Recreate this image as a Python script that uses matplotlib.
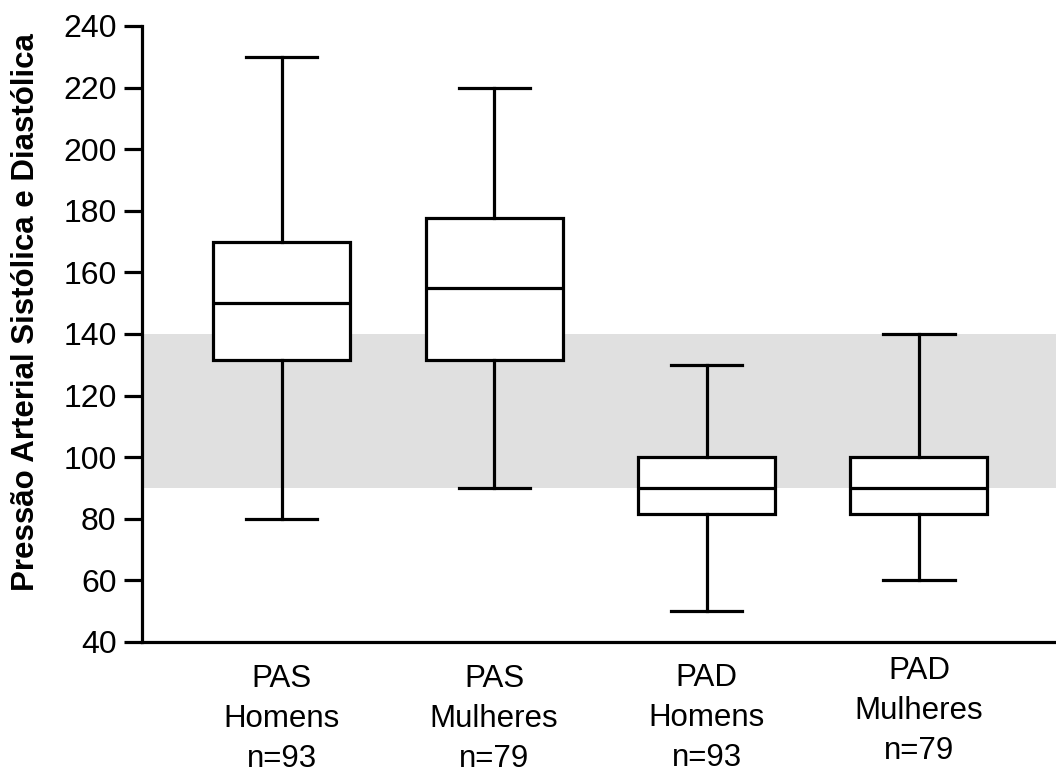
import matplotlib
matplotlib.use("Agg")
import matplotlib.pyplot as plt
from matplotlib.transforms import ScaledTranslation

plt.rcParams['font.family'] = ['Liberation Sans', 'DejaVu Sans']

categories = ["PAS\nHomens\nn=93", "PAS\nMulheres\nn=79", "PAD\nHomens\nn=93", "PAD\nMulheres\nn=79"]
whislo = [80, 90, 50, 60]
q1 = [131.5, 131.5, 81.5, 81.5]
med = [150, 155, 90, 90]
q3 = [170, 177.5, 100, 100]
whishi = [230, 220, 130, 140]
band = (90, 140)
yticks = [40, 60, 80, 100, 120, 140, 160, 180, 200, 220, 240]
ylabel = "Pressão Arterial Sistólica e Diastólica"

fig = plt.figure(figsize=(10.56, 7.76), dpi=100)
ax = fig.add_axes([0.134, 0.1727, 0.866, 0.7938])

stats = [dict(whislo=a, q1=b, med=c, q3=d, whishi=e, fliers=[])
         for a, b, c, d, e in zip(whislo, q1, med, q3, whishi)]
positions = list(range(1, len(stats) + 1))
lw = 2.3
ax.axhspan(band[0], band[1], color='#e0e0e0', zorder=0, lw=0)
ax.bxp(stats, positions=positions, widths=0.645, capwidths=0.335,
       showfliers=False, patch_artist=True,
       boxprops=dict(facecolor='white', edgecolor='black', linewidth=lw),
       medianprops=dict(color='black', linewidth=lw),
       whiskerprops=dict(color='black', linewidth=lw),
       capprops=dict(color='black', linewidth=lw), zorder=2)

ax.set_xlim(0.34, 4.645)
ax.set_ylim(40, 240)
ax.set_yticks(yticks)
ax.tick_params(axis='y', length=13, width=lw, labelsize=23, pad=5)
ax.set_xticks(positions)
ax.set_xticklabels([])
ax.tick_params(axis='x', length=0)
label_shift_px = [0, 0, 1, 8]
for p, lab, sh in zip(positions, categories, label_shift_px):
    tr = ax.get_xaxis_transform() + ScaledTranslation(0, sh / 100, fig.dpi_scale_trans)
    ax.text(p, -0.035, lab, transform=tr, ha='center', va='top',
            fontsize=22.5, linespacing=1.45)

ax.set_ylabel(ylabel, fontsize=22.5, fontweight='bold')
ax.yaxis.set_label_coords(-0.11, 0.535)

for s in ['top', 'right']:
    ax.spines[s].set_visible(False)
for s in ['left', 'bottom']:
    ax.spines[s].set_linewidth(lw)

fig.savefig("out.png", dpi=100)
